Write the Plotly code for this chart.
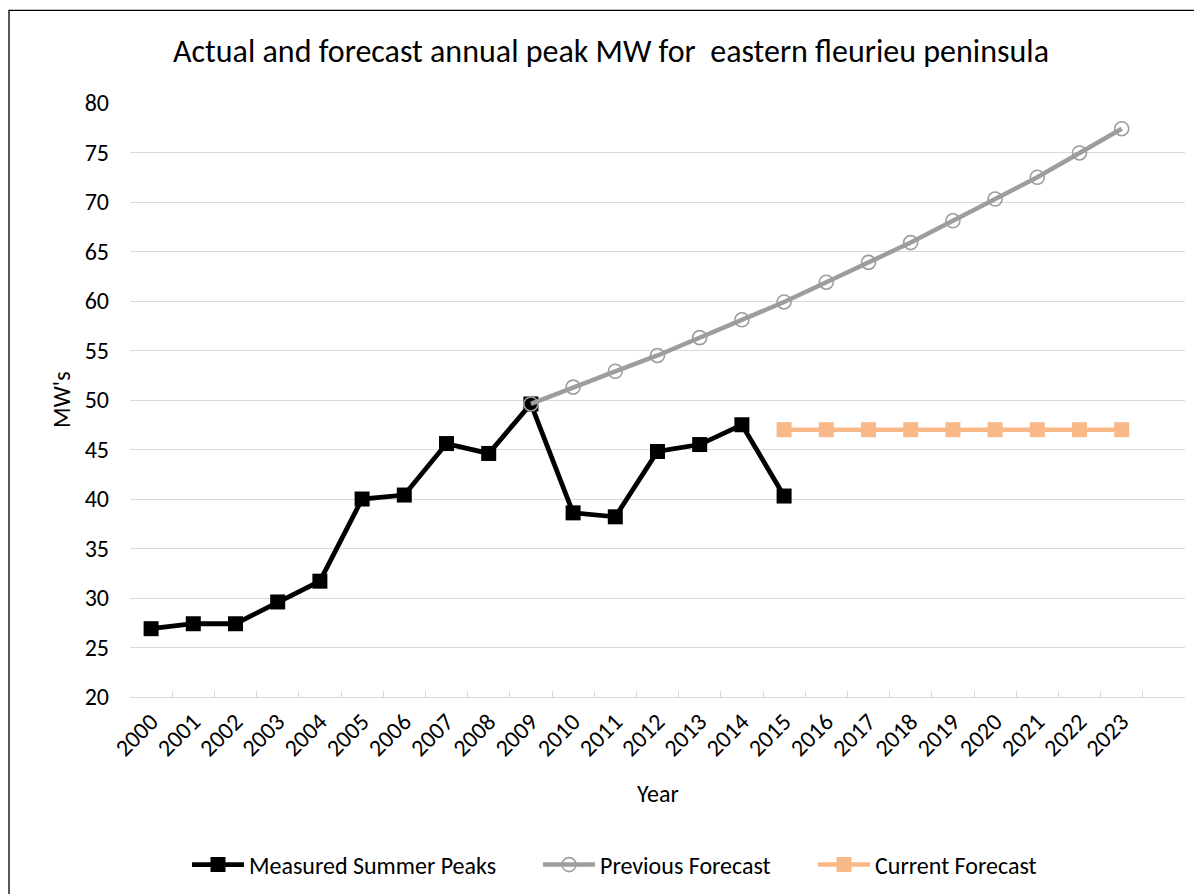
import plotly.graph_objects as go

years = [str(y) for y in range(2000, 2024)]
axis_categories = years + ["2024"]
tick_labels = years + [""]

measured_years = years[:16]
measured_peaks = [26.9, 27.4, 27.4, 29.6, 31.7, 40.0, 40.4, 45.6, 44.6, 49.6,
                  38.6, 38.2, 44.8, 45.5, 47.5, 40.3]

previous_years = years[9:]
previous_forecast = [49.6, 51.3, 52.9, 54.5, 56.3, 58.1, 59.9, 61.9, 63.9,
                     65.9, 68.1, 70.3, 72.5, 74.95, 77.4]

current_years = years[15:]
current_forecast = [47.0, 47.0, 47.0, 47.0, 47.0, 47.0, 47.0, 47.0, 47.0]

FONT = "Carlito, Calibri, Lato, sans-serif"
W, H = 1202, 894
OFF = 8  # page body margin
L, R, T, B = 130 - OFF, 1185 - OFF, 102.7 - OFF, 697.3 - OFF
pw = R - L
ph = B - T

fig = go.Figure()
fig.add_trace(go.Scatter(
    x=measured_years, y=measured_peaks, name="Measured Summer Peaks",
    mode="lines+markers", legend="legend",
    line=dict(color="#000000", width=4.8),
    marker=dict(symbol="square", size=15, color="#000000"),
))
fig.add_trace(go.Scatter(
    x=previous_years, y=previous_forecast, name="Previous Forecast",
    mode="lines+markers", legend="legend2",
    line=dict(color="#9d9d9d", width=4.5),
    marker=dict(symbol="circle-open", size=14, color="#9d9d9d",
                line=dict(width=1.6, color="#9d9d9d")),
))
fig.add_trace(go.Scatter(
    x=current_years, y=current_forecast, name="Current Forecast",
    mode="lines+markers", legend="legend3",
    line=dict(color="#F8B887", width=4.5),
    marker=dict(symbol="square", size=15, color="#F8B887"),
))


def leg(xpx):
    return dict(orientation="h", x=(xpx - OFF) / W, xref="container", xanchor="left",
                y=1 - (865 - OFF) / H, yref="container", yanchor="middle",
                font=dict(family=FONT, size=24, color="#000000"),
                bgcolor="rgba(0,0,0,0)", itemwidth=52)


fig.update_layout(
    width=W, height=H,
    margin=dict(l=L, r=W - R, t=T, b=H - B),
    paper_bgcolor="white", plot_bgcolor="white",
    font=dict(family=FONT, size=24, color="#000000"),
    title=dict(text="Actual and forecast annual peak MW for  eastern fleurieu peninsula",
               x=(611 - OFF) / W, xanchor="center", y=1 - (51 - OFF) / H, yanchor="middle",
               font=dict(family=FONT, size=32, color="#000000")),
    showlegend=True,
    legend=leg(187),
    legend2=leg(538),
    legend3=leg(813),
    xaxis=dict(type="category", categoryorder="array", categoryarray=axis_categories,
               range=[-0.5, 24.5], tickvals=axis_categories, ticktext=tick_labels,
               tickson="boundaries", ticks="inside", ticklen=6, tickcolor="#d9d9d9",
               tickwidth=1.3, showline=True, linecolor="#d9d9d9", linewidth=1.3,
               showgrid=False, tickangle=-45,
               tickfont=dict(family=FONT, size=24, color="#000000")),
    yaxis=dict(range=[20, 80], dtick=5, tick0=20, showgrid=True, gridcolor="#d9d9d9",
               gridwidth=1.3, zeroline=False, showline=False, ticks="",
               tickfont=dict(family=FONT, size=24, color="#000000"), ticklabelstandoff=20),
    annotations=[
        dict(text="Year", xref="paper", yref="paper", x=0.5, y=(B - (794 - OFF)) / ph,
             xanchor="center", yanchor="middle", showarrow=False,
             font=dict(family=FONT, size=24, color="#000000")),
        dict(text="MW's", xref="paper", yref="paper", x=((61 - OFF) - L) / pw, y=0.5,
             xanchor="center", yanchor="middle", showarrow=False, textangle=-90,
             font=dict(family=FONT, size=24, color="#000000")),
    ],
    shapes=[
        dict(type="rect", xref="paper", yref="paper",
             x0=((9 - OFF) - L) / pw, x1=(1230 - L) / pw,
             y0=(B - 920) / ph, y1=(B - (10 - OFF)) / ph,
             line=dict(color="#000000", width=1.3), fillcolor="rgba(0,0,0,0)", layer="below"),
    ],
)

fig.write_html("out.html")
